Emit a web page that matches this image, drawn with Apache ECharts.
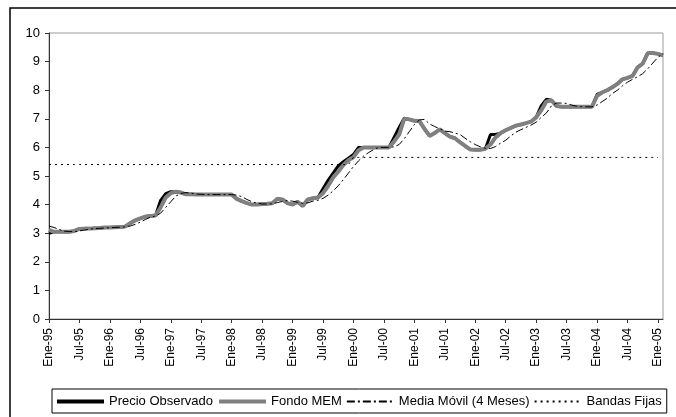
<!DOCTYPE html>
<html>
<head>
<meta charset="utf-8">
<script src="https://cdn.jsdelivr.net/npm/echarts@6/dist/echarts.min.js"></script>
<style>
  html, body { margin: 0; padding: 0; background: #fff; }
  #chart { width: 676px; height: 417px; }
</style>
</head>
<body>
<div id="chart"></div>
<script>
// Month labels (Spanish abbreviations) and two-digit years, Ene-95 .. Feb-05
const monthNames = ['Ene', 'Feb', 'Mar', 'Abr', 'May', 'Jun', 'Jul', 'Ago', 'Sep', 'Oct', 'Nov', 'Dic'];
const yearLabels = ['95', '96', '97', '98', '99', '00', '01', '02', '03', '04', '05'];

// Observed price
const precioObservado = [
  3.00, 3.05, 3.05, 3.05, 3.05, 3.08, 3.15, 3.16, 3.16, 3.17, 3.18, 3.20,
  3.20, 3.21, 3.22, 3.23, 3.35, 3.45, 3.52, 3.58, 3.60, 3.62, 4.15, 4.38,
  4.45, 4.45, 4.42, 4.36, 4.36, 4.35, 4.35, 4.35, 4.35, 4.35, 4.35, 4.35,
  4.35, 4.20, 4.12, 4.05, 4.00, 4.00, 4.02, 4.03, 4.05, 4.20, 4.18, 4.05,
  4.00, 4.10, 3.95, 4.18, 4.22, 4.25, 4.55, 4.85, 5.10, 5.35, 5.50, 5.62,
  5.75, 6.00, 6.00, 6.00, 6.00, 6.00, 6.00, 6.00, 6.35, 6.70, 7.02, 6.98,
  6.93, 6.92, 6.65, 6.40, 6.50, 6.63, 6.50, 6.38, 6.32, 6.18, 6.05, 5.93,
  5.92, 5.92, 5.95, 6.45, 6.45, 6.50, 6.60, 6.68, 6.76, 6.80, 6.85, 6.90,
  7.05, 7.45, 7.68, 7.65, 7.45, 7.42, 7.42, 7.42, 7.42, 7.42, 7.42, 7.42,
  7.85, 7.92, 8.00, 8.10, 8.22, 8.38, 8.43, 8.50, 8.80, 8.93, 9.30, 9.30,
  9.27, 9.22
];

// MEM fund
const fondoMEM = [
  3.12, 3.05, 3.05, 3.05, 3.05, 3.08, 3.15, 3.16, 3.16, 3.17, 3.18, 3.20,
  3.20, 3.21, 3.22, 3.23, 3.35, 3.45, 3.52, 3.58, 3.60, 3.62, 3.90, 4.25,
  4.40, 4.45, 4.42, 4.36, 4.36, 4.35, 4.35, 4.35, 4.35, 4.35, 4.35, 4.35,
  4.35, 4.20, 4.12, 4.05, 4.00, 4.00, 4.02, 4.03, 4.05, 4.20, 4.18, 4.05,
  4.00, 4.10, 3.95, 4.18, 4.22, 4.25, 4.40, 4.65, 4.95, 5.15, 5.38, 5.55,
  5.66, 5.90, 6.00, 6.00, 6.00, 6.00, 6.00, 6.00, 6.20, 6.45, 7.00, 6.98,
  6.93, 6.92, 6.65, 6.40, 6.50, 6.63, 6.50, 6.38, 6.32, 6.18, 6.05, 5.93,
  5.92, 5.92, 5.95, 6.10, 6.35, 6.50, 6.60, 6.68, 6.76, 6.80, 6.85, 6.90,
  7.05, 7.30, 7.60, 7.65, 7.45, 7.42, 7.42, 7.42, 7.42, 7.42, 7.42, 7.42,
  7.80, 7.92, 8.00, 8.10, 8.22, 8.38, 8.43, 8.50, 8.80, 8.93, 9.30, 9.30,
  9.27, 9.22
];

// Four-month moving average
const mediaMovil = [
  3.25, 3.20, 3.13, 3.07, 3.06, 3.05, 3.08, 3.11, 3.14, 3.16, 3.17, 3.18,
  3.19, 3.20, 3.21, 3.22, 3.25, 3.31, 3.39, 3.48, 3.56, 3.60, 3.70, 3.90,
  4.10, 4.30, 4.39, 4.42, 4.40, 4.37, 4.36, 4.35, 4.35, 4.35, 4.35, 4.35,
  4.35, 4.33, 4.28, 4.18, 4.10, 4.05, 4.02, 4.02, 4.03, 4.07, 4.11, 4.14,
  4.12, 4.08, 4.05, 4.06, 4.12, 4.15, 4.22, 4.33, 4.48, 4.66, 4.87, 5.10,
  5.33, 5.53, 5.70, 5.82, 5.93, 6.00, 6.00, 6.00, 6.02, 6.10, 6.30, 6.55,
  6.80, 6.96, 6.98, 6.82, 6.73, 6.65, 6.57, 6.55, 6.50, 6.45, 6.32, 6.20,
  6.10, 6.02, 5.97, 5.96, 6.03, 6.15, 6.25, 6.40, 6.53, 6.62, 6.70, 6.78,
  6.88, 7.05, 7.20, 7.45, 7.55, 7.55, 7.54, 7.48, 7.44, 7.42, 7.42, 7.42,
  7.48, 7.60, 7.72, 7.88, 8.00, 8.15, 8.28, 8.38, 8.47, 8.58, 8.75, 8.95,
  9.15, 9.28
];

// Fixed bands (Ene-95 .. Ene-05)
const bandasFijas = [
  5.40, 5.40, 5.40, 5.40, 5.40, 5.40, 5.40, 5.40, 5.40, 5.40, 5.40, 5.40,
  5.40, 5.40, 5.40, 5.40, 5.40, 5.40, 5.40, 5.40, 5.40, 5.40, 5.40, 5.40,
  5.40, 5.40, 5.40, 5.40, 5.40, 5.40, 5.40, 5.40, 5.40, 5.40, 5.40, 5.40,
  5.40, 5.40, 5.40, 5.40, 5.40, 5.40, 5.40, 5.40, 5.40, 5.40, 5.40, 5.40,
  5.40, 5.40, 5.40, 5.40, 5.40, 5.40, 5.40, 5.40, 5.40, 5.40, 5.40, 5.40,
  5.65, 5.65, 5.65, 5.65, 5.65, 5.65, 5.65, 5.65, 5.65, 5.65, 5.65, 5.65,
  5.65, 5.65, 5.65, 5.65, 5.65, 5.65, 5.65, 5.65, 5.65, 5.65, 5.65, 5.65,
  5.65, 5.65, 5.65, 5.65, 5.65, 5.65, 5.65, 5.65, 5.65, 5.65, 5.65, 5.65,
  5.65, 5.65, 5.65, 5.65, 5.65, 5.65, 5.65, 5.65, 5.65, 5.65, 5.65, 5.65,
  5.65, 5.65, 5.65, 5.65, 5.65, 5.65, 5.65, 5.65, 5.65, 5.65, 5.65, 5.65,
  5.65, null
];

const seriesNames = ['Precio Observado', 'Fondo MEM', 'Media Móvil (4 Meses)', 'Bandas Fijas'];

// Category labels Ene-95 .. Feb-05
const categories = [];
for (const y of yearLabels) {
  for (const m of monthNames) {
    if (categories.length < precioObservado.length) categories.push(m + '-' + y);
  }
}

const FONT = 'Liberation Sans, Arial, sans-serif';
const chart = echarts.init(document.getElementById('chart'), null, { renderer: 'canvas' });

chart.setOption({
  backgroundColor: '#ffffff',
  animation: false,
  textStyle: { fontFamily: FONT, color: '#000' },
  graphic: [{
    type: 'rect',
    shape: { x: 10, y: 8, width: 700, height: 500 },
    style: { fill: 'none', stroke: '#000', lineWidth: 1.5 },
    silent: true,
    z: -10
  }],
  grid: {
    left: 49, right: 13, top: 33, bottom: 98,
    show: true, borderColor: '#9a9a9a', borderWidth: 1,
    containLabel: false
  },
  legend: {
    left: 52, top: 389,
    padding: [6, 5, 5, 3],
    itemGap: 4,
    itemWidth: 47, itemHeight: 10,
    borderColor: '#000', borderWidth: 1,
    itemStyle: { opacity: 0 },
    textStyle: { fontFamily: FONT, fontSize: 13, color: '#000' },
    data: [
      { name: seriesNames[0], lineStyle: { width: 4 } },
      { name: seriesNames[1], lineStyle: { width: 4 } },
      { name: seriesNames[2] },
      { name: seriesNames[3] }
    ]
  },
  xAxis: {
    type: 'category',
    data: categories,
    boundaryGap: false,
    axisLine: { lineStyle: { color: '#333', width: 1 } },
    axisTick: { show: true, interval: 5, length: 4, lineStyle: { color: '#333' } },
    axisLabel: {
      interval: 5, rotate: 90, margin: 9,
      fontFamily: FONT, fontSize: 12, color: '#000'
    },
    splitLine: { show: false }
  },
  yAxis: {
    type: 'value',
    min: 0, max: 10, interval: 1,
    axisLine: { show: true, lineStyle: { color: '#333', width: 1 } },
    axisTick: { show: true, length: 4, lineStyle: { color: '#333' } },
    axisLabel: { margin: 9, fontFamily: FONT, fontSize: 13, color: '#000' },
    splitLine: { show: false }
  },
  series: [
    {
      name: seriesNames[0], type: 'line', data: precioObservado,
      symbol: 'none', lineStyle: { color: '#000', width: 3 },
      itemStyle: { color: '#000' }, z: 2
    },
    {
      name: seriesNames[1], type: 'line', data: fondoMEM,
      symbol: 'none', lineStyle: { color: '#808080', width: 4 },
      itemStyle: { color: '#808080' }, z: 3
    },
    {
      name: seriesNames[2], type: 'line', data: mediaMovil,
      symbol: 'none', lineStyle: { color: '#000', width: 1, type: [8, 3, 2, 3] },
      itemStyle: { color: '#000' }, z: 4
    },
    {
      name: seriesNames[3], type: 'line', data: bandasFijas,
      symbol: 'none', lineStyle: { color: '#000', width: 1, type: [2, 4] },
      itemStyle: { color: '#000' }, z: 5
    }
  ]
});
</script>
</body>
</html>
